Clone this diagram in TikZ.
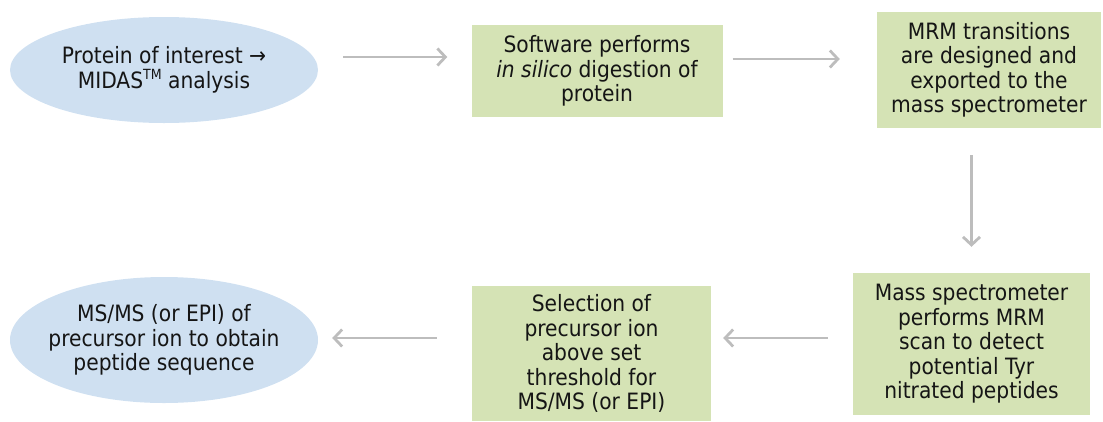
\documentclass[tikz,border=0pt]{standalone}
\usepackage{fontspec}
\setmainfont{DejaVu Sans Condensed}
\usetikzlibrary{shapes.geometric,arrows.meta}

\definecolor{ovalblue}{HTML}{CFE0F1}
\definecolor{boxgreen}{HTML}{D5E3B5}
\definecolor{arrowgray}{HTML}{BDBDBD}
\definecolor{textdark}{HTML}{151515}

\def\tm{\raisebox{0.38em}{\fontsize{14}{14}\selectfont TM}}

\begin{document}
\begin{tikzpicture}[x=1pt,y=-1pt,font=\fontsize{22.5}{24.5}\selectfont,text=textdark]
    \tikzstyle{oval} = [ellipse, fill=ovalblue, minimum width=308pt, minimum height=106pt, inner xsep=-30pt, inner ysep=0pt, align=center]
    \tikzstyle{stepbox} = [rectangle, fill=boxgreen, inner sep=0pt, align=center]
    \tikzstyle{flow} = [draw=arrowgray, line width=2.8pt, -{Straight Barb[length=8pt,width=17pt]}]

    \useasboundingbox (0,0) rectangle (1103,421);

    %%% DRAW THE NODES
    \node[oval] (in) at (164,70) {Protein of interest \textrightarrow\\MIDAS\tm\ analysis};
    \node[stepbox, minimum width=251pt, minimum height=92pt] (digest) at (597,71)
        {Software performs\\\textit{in silico} digestion of\\protein};
    \node[stepbox, minimum width=224pt, minimum height=116pt] (design) at (989,70)
        {MRM transitions\\are designed and\\exported to the\\mass spectrometer};
    \node[stepbox, minimum width=237pt, minimum height=142pt] (scan) at (971.5,344)
        {Mass spectrometer\\performs MRM\\scan to detect\\potential Tyr\\nitrated peptides};
    \node[stepbox, minimum width=239pt, minimum height=135pt] (select) at (591.5,353.5)
        {Selection of\\precursor ion\\above set\\threshold for\\MS/MS (or EPI)};
    \node[oval, minimum height=126pt] (out) at (164,340)
        {MS/MS (or EPI) of\\precursor ion to obtain\\peptide sequence};

    %%% DRAW THE PATHS
    \draw[flow, shorten <=25pt, shorten >=24pt] ([yshift=13pt]in.east) -- ([yshift=13pt]in.east -| digest.west);
    \draw[flow, shorten <=10pt, shorten >=37pt] ([yshift=12pt]digest.east) -- ([yshift=12pt]digest.east -| design.west);
    \draw[flow, shorten <=27pt, shorten >=26pt] (design.south -| scan.north) -- (scan.north);
    \draw[flow, shorten <=25pt, shorten >=12pt] ([yshift=6pt]scan.west) -- ([yshift=6pt]scan.west -| select.east);
    \draw[flow, shorten <=35pt, shorten >=14pt] ([yshift=2pt]select.west |- out.east) -- ([yshift=2pt]out.east);

\end{tikzpicture}
\end{document}
